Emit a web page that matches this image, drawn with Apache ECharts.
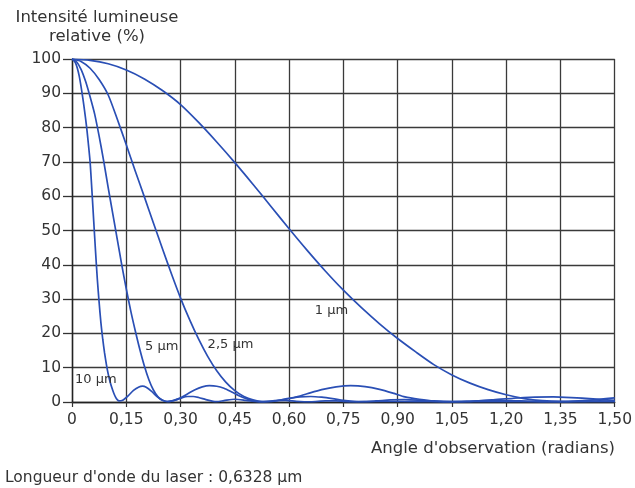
<!DOCTYPE html>
<html>
<head>
<meta charset="utf-8">
<script src="https://cdn.jsdelivr.net/npm/echarts@6/dist/echarts.min.js"></script>
<style>
html,body{margin:0;padding:0;background:#fff;}
#chart{width:635px;height:488px;}
</style>
</head>
<body>
<div id="chart"></div>
<script>
// ---- data (x = angle in radians, y = relative intensity %) ----
const seriesNames = ['10 µm', '5 µm', '2,5 µm', '1 µm'];

const curve10um = [
  [0,100],[0.01,98.8],[0.02,95],[0.03,88.5],[0.04,80.5],[0.045,75.5],[0.05,70],[0.055,61.7],
  [0.06,52.8],[0.065,44],[0.07,35.8],[0.075,29],[0.08,23],[0.085,18.3],[0.09,14.3],[0.095,11],
  [0.10,8.2],[0.105,6],[0.11,4.2],[0.115,2.7],[0.12,1.5],[0.125,0.7],[0.13,0.3],[0.14,0.5],
  [0.155,1.8],[0.17,3.4],[0.185,4.4],[0.195,4.6],[0.205,4.3],[0.22,3.1],[0.235,1.6],[0.25,0.5],
  [0.265,0.1],[0.28,0.4],[0.30,1.1],[0.32,1.6],[0.335,1.6],[0.35,1.3],[0.37,0.7],[0.39,0.2],
  [0.40,0.1],[0.42,0.4],[0.45,0.8],[0.48,0.5],[0.51,0.1],[0.53,0.05],[0.56,0.4],[0.59,0.5],
  [0.62,0.2],[0.66,0.05],[0.70,0.3],[0.73,0.3],[0.77,0.05],[0.85,0.2],[0.95,0.1],[1.1,0.1],
  [1.3,0.1],[1.5,0.1]
];
const curve5um = [
  [0,100],[0.0125,99.2],[0.025,97],[0.0375,93.5],[0.05,89],[0.0625,84],[0.075,77.5],[0.0875,70.3],
  [0.10,62.5],[0.1125,55],[0.125,47.5],[0.1375,40],[0.15,33],[0.1625,26.5],[0.175,20.7],[0.1875,15.3],
  [0.20,10.5],[0.2125,6.5],[0.225,3.5],[0.2375,1.5],[0.25,0.5],[0.2625,0.15],[0.28,0.4],
  [0.30,1.2],[0.32,2.4],[0.34,3.6],[0.36,4.4],[0.38,4.75],[0.40,4.6],[0.42,4],[0.44,3],
  [0.46,1.9],[0.48,1],[0.50,0.4],[0.52,0.1],[0.54,0.1],[0.57,0.5],[0.60,1.1],[0.63,1.5],
  [0.66,1.6],[0.69,1.4],[0.72,1],[0.75,0.5],[0.78,0.2],[0.80,0.1],[0.84,0.3],[0.88,0.6],
  [0.92,0.7],[0.96,0.5],[1.0,0.2],[1.05,0.05],[1.1,0.2],[1.15,0.4],[1.19,0.5],[1.24,0.3],
  [1.3,0.05],[1.33,0],[1.4,0.15],[1.46,0.3],[1.5,0.25]
];
const curve2_5um = [
  [0,100],[0.025,99.3],[0.05,97.3],[0.075,94],[0.10,89.5],[0.125,82.5],[0.15,75],[0.175,67.3],
  [0.20,59.8],[0.225,52.2],[0.25,44.7],[0.275,37.3],[0.30,30.3],[0.325,24],[0.35,18.3],
  [0.375,13.3],[0.40,9.1],[0.425,5.8],[0.45,3.3],[0.475,1.6],[0.50,0.6],[0.525,0.15],
  [0.55,0.15],[0.58,0.6],[0.615,1.3],[0.65,2.4],[0.69,3.6],[0.73,4.4],[0.77,4.75],[0.81,4.5],
  [0.85,3.7],[0.89,2.5],[0.92,1.5],[0.96,0.8],[1.0,0.3],[1.05,0.1],[1.1,0.2],[1.16,0.6],
  [1.22,1.1],[1.28,1.4],[1.33,1.5],[1.38,1.3],[1.44,0.9],[1.5,0.5]
];
const curve1um = [
  [0,100],[0.05,99.6],[0.10,98.6],[0.15,96.8],[0.20,94.2],[0.25,90.8],[0.30,86.7],[0.35,81.5],
  [0.40,75.8],[0.45,69.8],[0.50,63.5],[0.55,57],[0.60,50.5],[0.65,44.2],[0.70,38.2],[0.75,32.6],
  [0.80,27.5],[0.85,22.8],[0.90,18.5],[0.95,14.6],[1.00,10.9],[1.05,7.9],[1.10,5.5],[1.15,3.6],
  [1.20,2.1],[1.25,1.0],[1.30,0.4],[1.35,0.2],[1.40,0.35],[1.45,0.7],[1.50,1.2]
];
const curves = [curve10um, curve5um, curve2_5um, curve1um];

const xTicks = [0,0.15,0.30,0.45,0.60,0.75,0.90,1.05,1.20,1.35,1.50];
const yTicks = [0,10,20,30,40,50,60,70,80,90,100];

const titleLines = ['Intensité lumineuse', 'relative (%)'];
const xAxisTitle = "Angle d'observation (radians)";
const footerText = "Longueur d'onde du laser : 0,6328 µm";

// label anchor points (data coordinates) for each curve label
const labelAnchors = [[0.066,6.5],[0.248,16.2],[0.438,16.7],[0.717,26.6]];

// ---- chart ----
const FONT = 'DejaVu Sans';
const TXT = '#333';
const LINE = '#2a4fb5';

const chart = echarts.init(document.getElementById('chart'), null, {renderer:'canvas'});

function fmtX(v){
  const r = Math.round(v*100)/100;
  if (r === 0) return '0';
  return r.toFixed(2).replace('.', ',');
}

const series = curves.map((c, i) => ({
  name: seriesNames[i],
  type: 'line',
  data: c,
  smooth: 0.25,
  showSymbol: false,
  symbol: 'none',
  lineStyle: {color: LINE, width: 1.7},
  z: 3,
  markPoint: {
    symbol: 'circle',
    symbolSize: 0,
    data: [{
      coord: labelAnchors[i],
      label: {
        show: true,
        position: 'inside',
        formatter: seriesNames[i],
        fontFamily: FONT,
        fontSize: 13,
        color: TXT
      }
    }]
  }
}));

chart.setOption({
  animation: false,
  backgroundColor: '#fff',
  grid: {left: 72, right: 19, top: 59, bottom: 86, containLabel: false},
  xAxis: {
    type: 'value',
    min: xTicks[0],
    max: xTicks[xTicks.length-1],
    interval: 0.15,
    axisLine: {show: true, onZero: false, lineStyle: {color: '#222', width: 1.4}},
    axisTick: {show: true, length: 5, lineStyle: {color: '#333', width: 1.2}},
    axisLabel: {formatter: fmtX, fontFamily: FONT, fontSize: 15.5, color: TXT, margin: 10},
    splitLine: {show: true, lineStyle: {color: '#3a3a3a', width: 1.3}}
  },
  yAxis: {
    type: 'value',
    min: yTicks[0],
    max: yTicks[yTicks.length-1],
    interval: 10,
    axisLine: {show: true, lineStyle: {color: '#222', width: 1.4}},
    axisTick: {show: true, length: 9, lineStyle: {color: '#333', width: 1.3}},
    axisLabel: {fontFamily: FONT, fontSize: 15.5, color: TXT, margin: 11},
    splitLine: {show: true, lineStyle: {color: '#3a3a3a', width: 1.3}}
  },
  graphic: [
    {type: 'text', x: 97, y: 18, style: {text: titleLines[0], fontFamily: FONT, fontSize: 16.5, fill: TXT, align: 'center', verticalAlign: 'middle'}},
    {type: 'text', x: 97, y: 37, style: {text: titleLines[1], fontFamily: FONT, fontSize: 16.5, fill: TXT, align: 'center', verticalAlign: 'middle'}},
    {type: 'text', x: 615, y: 449, style: {text: xAxisTitle, fontFamily: FONT, fontSize: 16.5, fill: TXT, align: 'right', verticalAlign: 'middle'}},
    {type: 'text', x: 5, y: 478, style: {text: footerText, fontFamily: FONT, fontSize: 15.5, fill: TXT, align: 'left', verticalAlign: 'middle'}}
  ],
  series: series
});
</script>
</body>
</html>
